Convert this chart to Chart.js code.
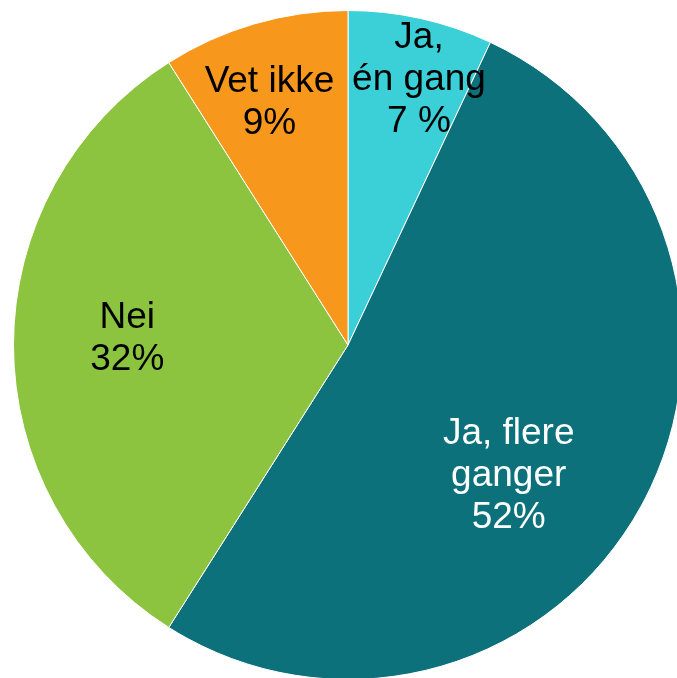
<!DOCTYPE html>
<html>
<head>
<meta charset="utf-8">
<script src="https://cdn.jsdelivr.net/npm/chart.js@4/dist/chart.umd.min.js"></script>
<style>
  html, body { margin: 0; padding: 0; background: #fff; overflow: hidden; }
  #wrap { position: absolute; left: 0; top: 0; width: 696px; height: 690px; }
</style>
</head>
<body>
<div id="wrap"><canvas id="pie" width="696" height="690"></canvas></div>
<script>
'use strict';

/* --- data ------------------------------------------------------------- */
const labels = ['Ja,\nén gang', 'Ja, flere\nganger', 'Nei', 'Vet ikke'];
const values = [7, 52, 32, 9];
const valueText = ['7 %', '52%', '32%', '9%'];
const sliceColors = ['#3BCFD7', '#0D717B', '#8CC43F', '#F7981D'];
const textColors = ['#000', '#fff', '#000', '#000'];

// label anchor: [fraction of radius, angle offset from slice middle in degrees]
const labelPlace = [[0.82, 2.4], [0.62, 10.4], [0.66, 1.6], [0.76, -1.8]];

/* --- in-slice labels -------------------------------------------------- */
const sliceLabels = {
    id: 'sliceLabels',
    afterDatasetsDraw(chart) {
        const ctx = chart.ctx;
        const meta = chart.getDatasetMeta(0);
        ctx.save();
        ctx.font = '37px "Liberation Sans", Arial, sans-serif';
        ctx.textAlign = 'center';
        ctx.textBaseline = 'middle';
        meta.data.forEach((arc, i) => {
            const p = arc.getProps(['x', 'y', 'startAngle', 'endAngle', 'outerRadius'], true);
            const mid = (p.startAngle + p.endAngle) / 2 + labelPlace[i][1] * Math.PI / 180;
            const r = p.outerRadius * labelPlace[i][0];
            const cx = p.x + Math.cos(mid) * r;
            const cy = p.y + Math.sin(mid) * r;
            const lines = labels[i].split('\n').concat([valueText[i]]);
            const lh = 42;
            const top = cy - (lines.length - 1) * lh / 2;
            ctx.fillStyle = textColors[i];
            lines.forEach((t, k) => ctx.fillText(t, cx, top + k * lh));
        });
        ctx.restore();
    }
};

new Chart(document.getElementById('pie').getContext('2d'), {
    type: 'pie',
    data: {
        labels: labels,
        datasets: [{
            data: values,
            backgroundColor: sliceColors,
            borderColor: '#fff',
            borderWidth: 1,
        }],
    },
    options: {
        responsive: false,
        animation: false,
        layout: { padding: 10 },
        plugins: {
            legend: { display: false },
            tooltip: { enabled: false },
        },
    },
    plugins: [sliceLabels],
});
</script>
</body>
</html>
